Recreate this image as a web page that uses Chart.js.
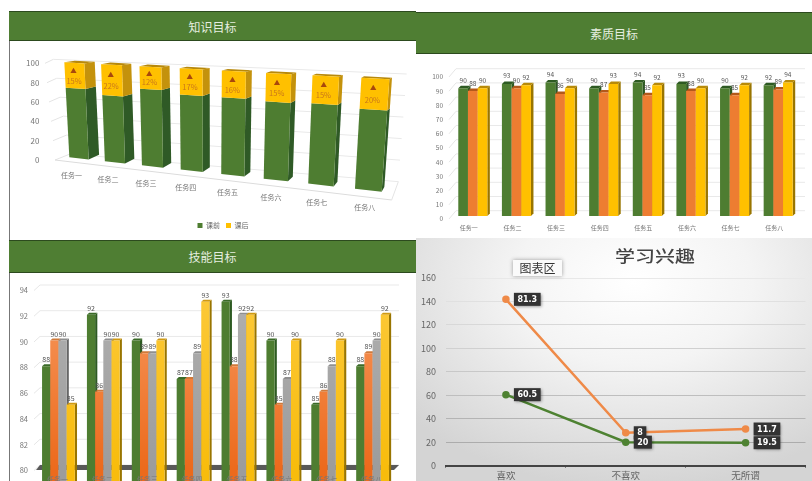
<!DOCTYPE html>
<html>
<head>
<meta charset="utf-8">
<script src="https://cdn.jsdelivr.net/npm/chart.js@4"></script>
<style>
html, body { margin: 0; padding: 0; background: #fff; }
body { width: 812px; height: 481px; overflow: hidden; position: relative; font-family: "Noto Sans CJK SC", sans-serif; filter: blur(0.35px); }
canvas, .head, .panel { position: absolute; display: block; }
.head { background: #4f7e33; color: #e6eee0; text-align: center; border-top: 1px solid #2c4a1e; border-bottom: 1px solid #2c4a1e; box-sizing: border-box; }
#bg4 { left: 416px; top: 238px; width: 396px; height: 243px; background: radial-gradient(ellipse 75% 85% at 55% 18%, #ffffff 0%, #f4f4f4 40%, #d4d4d4 100%); }
#title4 { position: absolute; left: 416px; width: 478px; top: 241px; text-align: center; font-size: 20px; line-height: 30px; font-weight: 500; color: #444; transform: scaleY(0.78); }
#tip { position: absolute; left: 513px; top: 260px; width: 49px; height: 16px; line-height: 15px; text-align: center; font-size: 12px; color: #333; background: #fafafa; box-shadow: 0 0 4px #999; }
</style>
</head>
<body>
<canvas id="c1" width="426" height="198" style="left:10px;top:41px;z-index:0"></canvas>
<div class="panel" style="left:9px;top:41px;width:1px;height:199px;background:#777;z-index:2"></div>
<div class="head" style="left:9px;top:11px;width:407px;height:30px;line-height:29px;font-size:12px;z-index:2">知识目标</div>
<div class="panel" style="left:416px;top:12px;width:396px;height:226px;background:#fff;z-index:1"></div>
<canvas id="c2" width="396" height="184" style="left:416px;top:54px;z-index:2"></canvas>
<div class="head" style="left:416px;top:12px;width:396px;height:42px;line-height:41px;font-size:12px;z-index:2">素质目标</div>
<div class="panel" style="left:0;top:240px;width:416px;height:241px;background:#fff;z-index:1"></div>
<div class="panel" style="left:9px;top:273px;width:1px;height:208px;background:#777;z-index:2"></div>
<canvas id="c3" width="406" height="208" style="left:10px;top:273px;z-index:2"></canvas>
<div class="head" style="left:9px;top:240px;width:407px;height:33px;line-height:32px;font-size:12px;z-index:2">技能目标</div>
<div class="panel" id="bg4" style="z-index:1"></div>
<canvas id="c4" width="396" height="243" style="left:416px;top:238px;z-index:2"></canvas>
<div id="title4" style="z-index:3">学习兴趣</div>
<div id="tip" style="z-index:3">图表区</div>

<script>
const tasks = ['任务一', '任务二', '任务三', '任务四', '任务五', '任务六', '任务七', '任务八'];

const knowBefore = [74, 69, 78, 75, 75, 74, 75, 73];
const knowAfter = [26, 31, 22, 25, 25, 26, 25, 27];
const knowRise = ['15%', '22%', '12%', '17%', '16%', '15%', '15%', '20%'];

const qualityA = [90, 93, 94, 90, 94, 93, 90, 92];
const qualityB = [88, 90, 86, 87, 85, 88, 85, 89];
const qualityC = [90, 92, 90, 93, 92, 90, 92, 94];

const skillA = [88, 92, 90, 87, 93, 90, 85, 88];
const skillB = [90, 86, 89, 87, 88, 85, 86, 89];
const skillC = [90, 90, 89, 89, 92, 87, 88, 90];
const skillD = [85, 90, 90, 93, 92, 90, 90, 92];

const interestCats = ['喜欢', '不喜欢', '无所谓'];
const interestGreen = [60.5, 20, 19.5];
const interestOrange = [81.3, 8, 11.7];

const GREEN = '#4e7d31', ORANGE = '#ed7d31', YELLOW = '#ffc000';
const FONT = '"Noto Sans CJK SC", sans-serif';
const TICK = '#777';

function poly(ctx, pts, color) {
    ctx.fillStyle = color;
    ctx.beginPath();
    pts.forEach((p, i) => i ? ctx.lineTo(p[0], p[1]) : ctx.moveTo(p[0], p[1]));
    ctx.closePath();
    ctx.fill();
}

function line(ctx, a, b, color) {
    ctx.strokeStyle = color;
    ctx.lineWidth = 1;
    ctx.beginPath();
    ctx.moveTo(a[0], a[1]);
    ctx.lineTo(b[0], b[1]);
    ctx.stroke();
}

function text(ctx, s, x, y, font, color, align) {
    ctx.font = font;
    ctx.fillStyle = color;
    ctx.textAlign = align || 'center';
    ctx.textBaseline = 'middle';
    ctx.fillText(s, x, y);
}

function lerp(a, b, t) { return a + (b - a) * t; }
function lerpP(a, b, t) { return [lerp(a[0], b[0], t), lerp(a[1], b[1], t)]; }

// unit square -> quad (bl, br, tr, tl)
function homography(q) {
    const [x0, y0] = q[0], [x1, y1] = q[1], [x2, y2] = q[2], [x3, y3] = q[3];
    const dx1 = x1 - x2, dx2 = x3 - x2, sx = x0 - x1 + x2 - x3;
    const dy1 = y1 - y2, dy2 = y3 - y2, sy = y0 - y1 + y2 - y3;
    const den = dx1 * dy2 - dx2 * dy1;
    const g = (sx * dy2 - dx2 * sy) / den, h = (dx1 * sy - sx * dy1) / den;
    const a = x1 - x0 + g * x1, b = x3 - x0 + h * x3;
    const d = y1 - y0 + g * y1, e = y3 - y0 + h * y3;
    return (u, v) => {
        const w = g * u + h * v + 1;
        return [(a * u + b * v + x0) / w, (d * u + e * v + y0) / w];
    };
}

// zoomed px of the reference panel -> canvas px
const z1 = (x, y) => [x / 3 - 10, y / 3 - 41];
const project1 = homography([z1(208, 472), z1(1145, 575), z1(1168, 238), z1(193, 187)]);

const perspectivePlugin = {
    id: 'perspective',
    beforeDatasetsDraw(chart) {
        const ctx = chart.ctx, ys = chart.scales.y;
        const m0 = chart.getDatasetMeta(0), m1 = chart.getDatasetMeta(1);
        const first = m0.data[0], last = m0.data[m0.data.length - 1];
        const x0 = first.x - first.width / 2, x1 = last.x + last.width / 2;
        const U = x => (x - x0) / (x1 - x0);
        const V = y => (ys.getPixelForValue(0) - y) / (ys.getPixelForValue(0) - ys.getPixelForValue(100));

        // back wall and floor
        ys.ticks.forEach(t => {
            const v = t.value / 100;
            const front = lerpP(z1(165, 480), z1(135, 190), v);
            const backL = lerpP(z1(210, 462), z1(160, 178), v);
            const backR = lerpP(z1(1195, 545), z1(1220, 222), v);
            line(ctx, front, backL, '#e4e4e4');
            line(ctx, backL, backR, '#e9e9e9');
            text(ctx, String(t.value), z1(118, 0)[0], z1(0, lerp(480, 190, v))[1], '8px ' + FONT, TICK, 'right');
        });
        line(ctx, z1(165, 480), z1(1175, 600), '#dcdcdc');
        line(ctx, z1(1175, 600), z1(1195, 545), '#e4e4e4');

        const sides = ['#2f5a26', '#c4920c'], tops = ['#2f5a26', '#b8890a'];
        m0.data.forEach((_, i) => {
            [m0, m1].forEach((meta, k) => {
                const el = meta.data[i];
                const uL = U(el.x - el.width / 2), uR = U(el.x + el.width / 2);
                const vB = V(el.base), vT = V(el.y);
                const ddx = lerp(33, 8, uR) / 3;
                const off = v => [ddx, lerp(-14, -5, v) / 3];
                const fbl = project1(uL, vB), fbr = project1(uR, vB), ftr = project1(uR, vT), ftl = project1(uL, vT);
                const oB = off(vB), oT = off(vT);
                poly(ctx, [fbr, ftr, [ftr[0] + oT[0], ftr[1] + oT[1]], [fbr[0] + oB[0], fbr[1] + oB[1]]], sides[k]);
                if (k === 1) {
                    poly(ctx, [ftl, ftr, [ftr[0] + oT[0], ftr[1] + oT[1]], [ftl[0] + oT[0], ftl[1] + oT[1]]], tops[k]);
                }
                poly(ctx, [fbl, fbr, ftr, ftl], chart.data.datasets[k].backgroundColor);
                if (k === 1) {
                    const uC = (uL + uR) / 2 - 0.004;
                    const a = project1(uC, lerp(vT, vB, 0.3)), b = project1(uC, lerp(vT, vB, 0.7));
                    text(ctx, '▲', a[0], a[1], '6.5px ' + FONT, '#a8480c');
                    text(ctx, knowRise[i], b[0], b[1], '7.5px ' + FONT, '#c9761a');
                }
            });
            // category label under the bar
            const el = m0.data[i], u = U(el.x);
            const p = project1(u, 0);
            text(ctx, tasks[i], p[0] + lerp(-23, -10, u) / 3, p[1] + 17, '7px ' + FONT, TICK);
        });
        return false;
    }
};

new Chart(document.getElementById('c1'), {
    type: 'bar',
    data: {
        labels: tasks,
        datasets: [
            { label: '课前', data: knowBefore, backgroundColor: GREEN },
            { label: '课后', data: knowAfter, backgroundColor: YELLOW }
        ]
    },
    options: {
        responsive: false,
        animation: false,
        layout: { padding: { left: 40, right: 40, top: 10, bottom: 0 } },
        datasets: { bar: { categoryPercentage: 1, barPercentage: 0.55 } },
        scales: {
            x: { display: false, stacked: true },
            y: { display: false, stacked: true, min: 0, max: 100, ticks: { stepSize: 20 } }
        },
        plugins: {
            tooltip: { enabled: false },
            legend: {
                position: 'bottom',
                labels: { boxWidth: 5, boxHeight: 5, padding: 6, color: '#666', font: { size: 7, family: FONT } }
            }
        }
    },
    plugins: [perspectivePlugin]
});

// oblique 3d columns: native bars with side, cap, back wall and labels around them
function columnPlugin(cfg) {
    return {
        id: 'column3d',
        beforeDatasetsDraw(chart) {
            const ctx = chart.ctx, ys = chart.scales.y;
            ys.ticks.forEach(t => {
                const y = ys.getPixelForValue(t.value);
                const yb = y - cfg.wallUp;
                line(ctx, [cfg.wallX0 - cfg.wallDx, y + cfg.tickDown], [cfg.wallX0, yb], '#e6e6e6');
                line(ctx, [cfg.wallX0, yb], [cfg.wallX1, yb], '#e9e9e9');
                text(ctx, String(t.value), cfg.tickX, y + cfg.tickDown, cfg.tickFont, TICK, 'right');
            });
            if (cfg.floor) {
                const y = ys.getPixelForValue(ys.min);
                poly(ctx, [[cfg.wallX0 - cfg.wallDx + 2, y + 1], [cfg.wallX0, y - cfg.wallUp], [cfg.wallX1, y - cfg.wallUp], [cfg.wallX1 - 5, y + 1]], '#595959');
            }
            const n = chart.data.labels.length, metas = chart.data.datasets.map((_, k) => chart.getDatasetMeta(k));
            for (let i = 0; i < n; i++) {
                metas.forEach((meta, k) => {
                    const el = meta.data[i];
                    const l = el.x - el.width / 2, r = el.x + el.width / 2, t = el.y, b = el.base;
                    poly(ctx, [[r, b], [r, t], [r + cfg.dx, t - cfg.dy], [r + cfg.dx, b - cfg.dy]], cfg.side[k]);
                    poly(ctx, [[l, t], [r, t], [r + cfg.dx, t - cfg.dy], [l + cfg.dx, t - cfg.dy]], cfg.cap[k]);
                    el.draw(ctx);
                });
            }
            metas.forEach((meta, k) => {
                meta.data.forEach((el, i) => {
                    text(ctx, String(chart.data.datasets[k].data[i]), el.x + cfg.valDx, el.y - cfg.valUp, cfg.valFont, '#555');
                });
            });
            metas[0].data.forEach((_, i) => {
                const g = chart.scales.x.getPixelForTick(i);
                text(ctx, tasks[i], g + cfg.catDx, cfg.catY, cfg.catFont, TICK);
            });
            return false;
        }
    };
}

function grad(top, bottom) {
    return c => {
        const a = c.chart.chartArea;
        if (!a) return bottom;
        const g = c.chart.ctx.createLinearGradient(0, a.top, 0, a.bottom);
        g.addColorStop(0, top);
        g.addColorStop(1, bottom);
        return g;
    };
}

function columnOptions(min, max, step, pad, catPct) {
    return {
        responsive: false,
        animation: false,
        layout: { padding: pad },
        datasets: { bar: { categoryPercentage: catPct, barPercentage: 1 } },
        scales: {
            x: { display: false },
            y: { display: false, min: min, max: max, ticks: { stepSize: step, font: { size: 6 } } }
        },
        plugins: { legend: { display: false }, tooltip: { enabled: false } }
    };
}

new Chart(document.getElementById('c2'), {
    type: 'bar',
    data: {
        labels: tasks,
        datasets: [
            { data: qualityA, backgroundColor: GREEN },
            { data: qualityB, backgroundColor: ORANGE },
            { data: qualityC, backgroundColor: YELLOW }
        ]
    },
    options: columnOptions(0, 100, 10, { left: 35, right: 12, top: 20, bottom: 22 }, 0.666),
    plugins: [columnPlugin({
        dx: 2.5, dy: 2.5, wallUp: 5.3, tickDown: 3, wallX0: 40, wallX1: 389, wallDx: 7,
        side: ['#2d5a22', '#b3591b', '#997500'], cap: ['#2d5a22', '#b3591b', '#b88a08'],
        tickX: 27, tickFont: '6.5px ' + FONT,
        valDx: 0, valUp: 8, valFont: '6.5px ' + FONT,
        catDx: -4, catY: 174, catFont: '6px ' + FONT
    })]
});

new Chart(document.getElementById('c3'), {
    type: 'bar',
    data: {
        labels: tasks,
        datasets: [
            { data: skillA, backgroundColor: GREEN },
            { data: skillB, backgroundColor: grad('#f7995f', '#ec6a1c') },
            { data: skillC, backgroundColor: grad('#b0b0b0', '#9c9c9c') },
            { data: skillD, backgroundColor: grad('#fcc93a', '#f8bc0c') }
        ]
    },
    options: columnOptions(80, 94, 2, { left: 26, right: 21, top: 16, bottom: 12 }, 0.73),
    plugins: [columnPlugin({
        dx: 2.2, dy: 2, wallUp: 4, tickDown: 1.5, wallX0: 30, wallX1: 389, wallDx: 6, floor: true,
        side: ['#2d5a22', '#b3591b', '#666666', '#997500'], cap: ['#3a6a28', '#d07a3a', '#8f8f8f', '#d09a12'],
        tickX: 18, tickFont: '7.5px ' + FONT,
        valDx: 0, valUp: 6.5, valFont: '7px ' + FONT,
        catDx: -1, catY: 206, catFont: '7px ' + FONT
    })]
});

const valueBoxes = {
    id: 'valueBoxes',
    afterDatasetsDraw(chart) {
        const ctx = chart.ctx;
        [1, 0].forEach(k => {
            chart.getDatasetMeta(k).data.forEach((el, i) => {
                const s = String(chart.data.datasets[k].data[i]);
                ctx.font = 'bold 8px "DejaVu Sans", sans-serif';
                const w = ctx.measureText(s).width + 7, h = 13, x = el.x + 8, y = el.y - h / 2;
                ctx.save();
                ctx.shadowColor = 'rgba(0,0,0,.45)';
                ctx.shadowBlur = 3;
                ctx.shadowOffsetX = 1;
                ctx.shadowOffsetY = 1;
                ctx.fillStyle = '#333';
                ctx.fillRect(x, y, w, h);
                ctx.restore();
                text(ctx, s, x + w / 2, el.y + 0.5, 'bold 8px "DejaVu Sans", sans-serif', '#fff');
            });
        });
    }
};

const gridShades = [165, 172, 180, 190, 200, 208, 216, 224, 232];

new Chart(document.getElementById('c4'), {
    type: 'line',
    data: {
        labels: interestCats,
        datasets: [
            { data: interestGreen, borderColor: '#4e8232', backgroundColor: '#4e8232', borderWidth: 2.5, pointRadius: 2.5, tension: 0, fill: false },
            { data: interestOrange, borderColor: '#ef8a48', backgroundColor: '#ef8a48', borderWidth: 2.5, pointRadius: 2.5, tension: 0, fill: false }
        ]
    },
    options: {
        responsive: false,
        animation: false,
        layout: { padding: { left: 0, right: 0, top: 40, bottom: 0 } },
        scales: {
            x: {
                offset: true,
                afterFit(s) { s.height = 15; },
                grid: { offset: true, drawOnChartArea: false, color: '#444', tickLength: 2, lineWidth: 1 },
                border: { color: '#444', width: 2 },
                ticks: { color: '#666', padding: 2, font: { size: 9.5, family: FONT } }
            },
            y: {
                stacked: true,
                min: 0,
                max: 160,
                afterFit(s) { s.width = 30; },
                grid: {
                    drawTicks: false,
                    lineWidth: 1,
                    color: c => { const v = gridShades[c.index] || 200; return `rgb(${v},${v},${v})`; }
                },
                border: { display: false },
                ticks: { stepSize: 20, color: '#666', padding: 10, font: { size: 9, family: FONT } }
            }
        },
        plugins: { legend: { display: false }, tooltip: { enabled: false } }
    },
    plugins: [valueBoxes]
});
</script>
</body>
</html>
